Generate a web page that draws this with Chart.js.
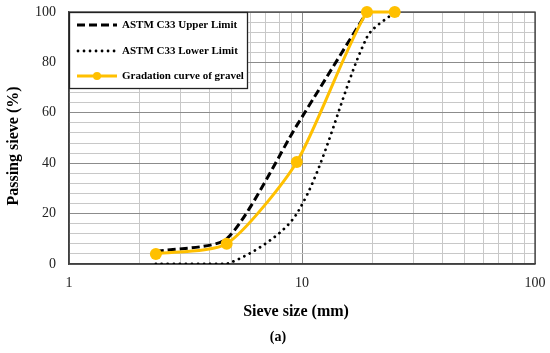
<!DOCTYPE html>
<html><head><meta charset="utf-8">
<script src="https://cdn.jsdelivr.net/npm/chart.js@4/dist/chart.umd.min.js"></script>
<style>html,body{margin:0;padding:0;background:#fff}#wrap{width:550px;height:353px;position:relative}</style>
</head><body><div id="wrap"><canvas id="c" width="550" height="353"></canvas></div>
<script>
const seriesLabels = ['ASTM C33 Upper Limit', 'ASTM C33 Lower Limit', 'Gradation curve of gravel'];
const upperSizes = [2.36, 4.75, 9.5, 19];
const upperPassing = [5, 10, 55, 100];
const lowerSizes = [2.36, 4.75, 9.5, 19, 25];
const lowerPassing = [0, 0, 20, 90, 100];
const gravelSizes = [2.36, 4.75, 9.5, 19, 25];
const gravelPassing = [4, 8, 40.5, 100, 100];
const xTicks = [1, 2, 3, 4, 5, 6, 7, 8, 9, 10, 20, 30, 40, 50, 60, 70, 80, 90, 100];
const xTickLabels = [1, 10, 100];
const yTicks = [0, 4, 8, 12, 16, 20, 24, 28, 32, 36, 40, 44, 48, 52, 56, 60, 64, 68, 72, 76, 80, 84, 88, 92, 96, 100];
const yTickLabels = [0, 20, 40, 60, 80, 100];
const xTitle = 'Sieve size (mm)';
const yTitle = 'Passing sieve (%)';
const subCaption = '(a)';

const ORANGE = '#FFC000';
const SERIF = '"Liberation Serif", "Times New Roman", serif';
const toXY = (xs, ys) => xs.map((x, i) => ({x: x, y: ys[i]}));
const noPad = s => { s.paddingLeft = 0; s.paddingRight = 0; s.paddingTop = 0; s.paddingBottom = 0; };

const overlay = {
  id: 'overlay',
  beforeDatasetsDraw(chart) {
    const a = chart.chartArea, ctx = chart.ctx;
    ctx.save();
    ctx.strokeStyle = '#404040';
    ctx.lineWidth = 1.3;
    ctx.strokeRect(a.left, a.top, a.right - a.left, a.bottom - a.top);
    ctx.restore();
  },
  afterDraw(chart) {
    const a = chart.chartArea, ctx = chart.ctx;
    ctx.save();
    const lx = a.left, ly = a.top, lw = 179, lh = 77;
    ctx.fillStyle = '#fff';
    ctx.fillRect(lx, ly, lw, lh);
    ctx.strokeStyle = '#222';
    ctx.lineWidth = 1.3;
    ctx.strokeRect(lx + 0.5, ly + 0.5, lw - 1, lh - 1);
    const rows = [ly + 13, ly + 39, ly + 64];
    const x0 = lx + 8, x1 = lx + 48;
    ctx.strokeStyle = '#000'; ctx.lineWidth = 3; ctx.lineCap = 'butt';
    ctx.setLineDash([8, 4]);
    ctx.beginPath(); ctx.moveTo(x0, rows[0]); ctx.lineTo(x1, rows[0]); ctx.stroke();
    ctx.lineCap = 'round'; ctx.lineWidth = 2.8;
    ctx.setLineDash([0.01, 6]);
    ctx.beginPath(); ctx.moveTo(x0 + 1, rows[1]); ctx.lineTo(x1, rows[1]); ctx.stroke();
    ctx.setLineDash([]); ctx.lineCap = 'butt';
    ctx.strokeStyle = ORANGE; ctx.lineWidth = 3;
    ctx.beginPath(); ctx.moveTo(x0, rows[2]); ctx.lineTo(x1, rows[2]); ctx.stroke();
    ctx.fillStyle = ORANGE;
    ctx.beginPath(); ctx.arc((x0 + x1) / 2, rows[2], 4, 0, Math.PI * 2); ctx.fill();
    ctx.fillStyle = '#000';
    ctx.font = 'bold 11px ' + SERIF;
    ctx.textBaseline = 'middle'; ctx.textAlign = 'left';
    seriesLabels.forEach((t, i) => ctx.fillText(t, x1 + 5, rows[i] + 0.5));
    ctx.font = 'bold 16px ' + SERIF;
    ctx.textAlign = 'center';
    ctx.fillText(xTitle, 296, 312);
    ctx.font = 'bold 14px ' + SERIF;
    ctx.fillText(subCaption, 278, 337);
    ctx.font = 'bold 16px ' + SERIF;
    ctx.translate(14, 146);
    ctx.rotate(-Math.PI / 2);
    ctx.fillText(yTitle, 0, 0);
    ctx.restore();
  }
};

new Chart(document.getElementById('c'), {
  type: 'line',
  data: {
    datasets: [
      {label: seriesLabels[0], data: toXY(upperSizes, upperPassing), borderColor: '#000', borderWidth: 3,
       borderDash: [8, 4], pointRadius: 0, tension: 0.22, fill: false, order: 2},
      {label: seriesLabels[1], data: toXY(lowerSizes, lowerPassing), borderColor: '#000', borderWidth: 2.8,
       borderDash: [0.01, 6], borderCapStyle: 'round', pointRadius: 0, tension: 0.3, fill: false, order: 1},
      {label: seriesLabels[2], data: toXY(gravelSizes, gravelPassing), borderColor: ORANGE, borderWidth: 3,
       pointRadius: 6, pointBackgroundColor: ORANGE, pointBorderWidth: 0, tension: 0.22, fill: false, order: 0, clip: false}
    ]
  },
  options: {
    responsive: false,
    animation: false,
    devicePixelRatio: 1,
    layout: {padding: {left: 0, right: 15, top: 12, bottom: 0}},
    plugins: {legend: {display: false}, tooltip: {enabled: false}},
    scales: {
      x: {
        type: 'logarithmic', min: 1, max: 100,
        afterBuildTicks: s => { s.ticks = xTicks.map(v => ({value: v})); },
        afterFit: s => { s.height = 89; noPad(s); },
        ticks: {autoSkip: false, maxRotation: 0, padding: 11, color: '#222',
          font: {family: SERIF, size: 14},
          callback: v => xTickLabels.includes(v) ? String(v) : ''},
        grid: {drawTicks: false, lineWidth: 1,
          color: c => (c.tick && xTickLabels.includes(c.tick.value)) ? '#8c8c8c' : '#c8c8c8'},
        border: {display: true, color: '#404040', width: 1.3}
      },
      y: {
        type: 'linear', min: 0, max: 100,
        afterBuildTicks: s => { s.ticks = yTicks.map(v => ({value: v})); },
        afterFit: s => { s.width = 69; noPad(s); },
        ticks: {autoSkip: false, padding: 13, color: '#222',
          font: {family: SERIF, size: 14},
          callback: v => yTickLabels.includes(v) ? String(v) : ''},
        grid: {drawTicks: false, lineWidth: 1,
          color: c => (c.tick && yTickLabels.includes(c.tick.value)) ? '#8c8c8c' : '#c8c8c8'},
        border: {display: true, color: '#404040', width: 1.3}
      }
    }
  },
  plugins: [overlay]
});
</script>
</body></html>
